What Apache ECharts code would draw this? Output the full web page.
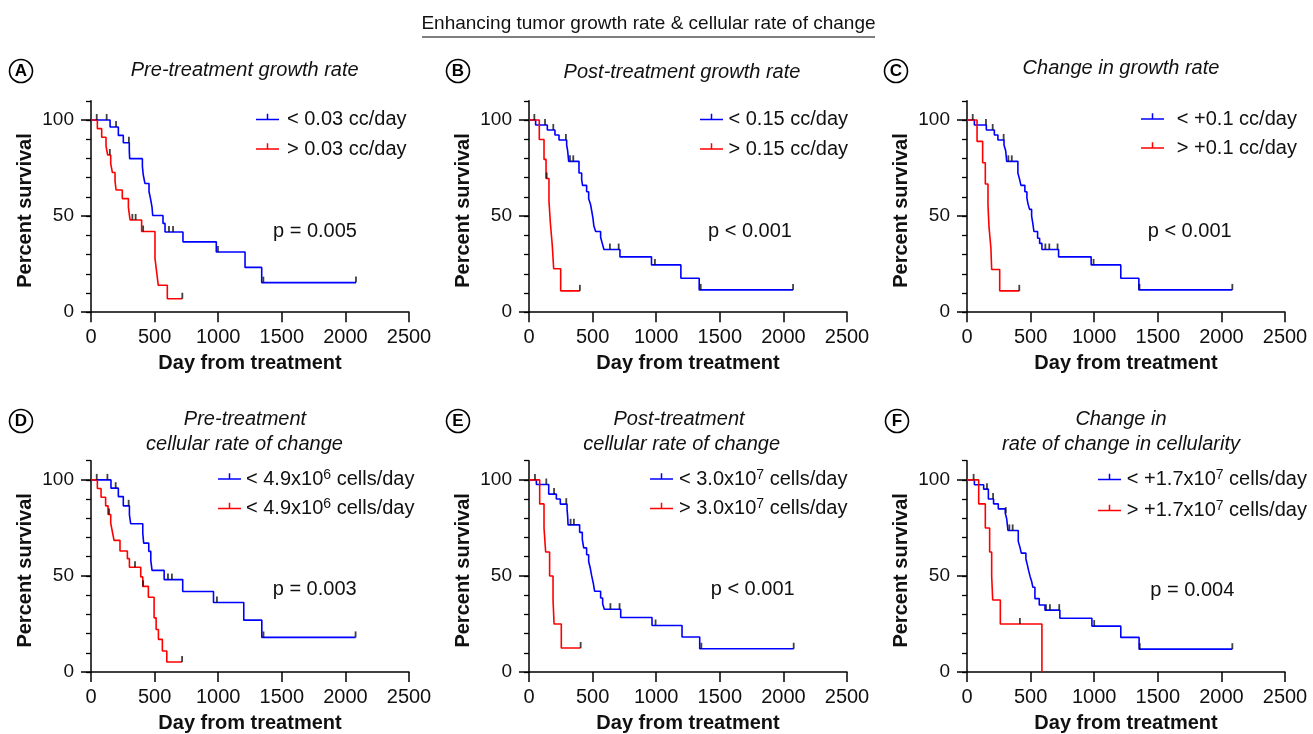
<!DOCTYPE html>
<html><head><meta charset="utf-8">
<script src="https://cdn.jsdelivr.net/npm/echarts@6/dist/echarts.min.js"></script>
<style>html,body{margin:0;padding:0;background:#fff}#c{width:1313px;height:734px}</style>
</head><body><div id="c"></div>
<script>
// ---------------- DATA ----------------
// Each curve: event days (T), survival % after each event (S), last follow-up day (End), censored days (Cens)
// A: Pre-treatment growth rate
const aBlueT = [0,150,215,254,301,304,404,411,424,456,469,480,485,566,582,723,985,1211,1342];
const aBlueS = [100,96.4,92,88.2,84.2,79.9,75.9,71.4,67,62.8,58.7,54.5,50.3,46.2,41.7,36.6,31.3,23.3,15.4];
const aBlueEnd = 2083;
const aBlueCens = [45,123,197,298,613,645,998,1355,2083];
const aRedT = [0,50,84,118,131,155,168,189,197,246,294,307,398,503,516,529,600];
const aRedS = [100,95.5,91,86.4,81.8,77.3,72.7,68.2,63.6,59.1,54.5,48,42,28,21,14,7];
const aRedEnd = 718;
const aRedCens = [148,325,351,410,718];
// B: Post-treatment growth rate
const bBlueT = [0,52,144,204,236,296,304,312,393,414,421,453,469,484,495,503,510,524,563,576,589,715,963,1194,1338];
const bBlueS = [100,97.4,94.8,92.2,89.6,87,83.9,78.5,72.4,69,66,62.7,59,56,52,48.8,44.8,42,39,35.8,32.6,28.8,24.6,17.7,11.6];
const bBlueEnd = 2076;
const bBlueCens = [42,126,191,290,322,348,636,705,990,1350,2076];
const bRedT = [0,81,118,134,157,168,183,194,249];
const bRedS = [100,89.9,79.5,69.6,57.8,46.4,34.7,22.6,11.1];
const bRedEnd = 400;
const bRedCens = [139,400];
// C: Change in growth rate
const cBlueT = [0,58,152,215,243,291,304,312,400,414,424,455,471,479,492,508,518,526,555,571,589,720,976,1209,1351];
const cBlueS = [100,97.4,94.8,92.2,89.6,87,84,78.5,72.4,69,66,62.7,59.5,56.5,53.5,50,46,42,38.5,35.8,32.6,28.8,24.6,17.7,11.6];
const cBlueEnd = 2086;
const cBlueCens = [45,149,202,288,325,352,616,647,712,995,1356,2086];
const cRedT = [0,79,123,144,165,173,188,194,257];
const cRedS = [100,88.9,77.8,66.7,55.6,44.4,33.3,22.2,11.1];
const cRedEnd = 411;
const cRedCens = [411];
// D: Pre-treatment cellular rate of change
const dBlueT = [0,157,215,254,302,312,407,414,454,470,480,575,721,963,1201,1343];
const dBlueS = [100,95.7,91.3,86.5,81.8,77.2,72.3,67.1,62.8,58.1,52.9,48.1,41.9,36.2,27,18];
const dBlueEnd = 2080;
const dBlueCens = [45,129,194,296,605,636,990,1356,2080];
const dRedT = [0,50,79,115,134,155,168,181,228,286,302,391,407,451,496,512,530,561,596];
const dRedS = [100,95.5,91,86.5,82,77.5,73,68.5,63,59,54.5,49.5,44.6,38.9,28.2,22.1,17,10.9,5.2];
const dRedEnd = 716;
const dRedCens = [142,346,410,716];
// E: Post-treatment cellular rate of change
const eBlueT = [0,58,155,215,246,299,304,307,398,419,430,453,469,482,493,506,516,563,579,592,721,967,1203,1342];
const eBlueS = [100,97.6,92.6,90.1,87.4,84.8,81,76.6,72.7,69,64.6,61,57.5,54,50,46,42,38.5,35.5,32.7,28.4,24.2,18.2,12.1];
const eBlueEnd = 2081;
const eBlueCens = [47,136,197,293,327,353,640,712,995,1355,2081];
const eRedT = [0,84,118,131,162,189,197,254];
const eRedS = [100,87.5,75,62.5,50,37.5,25,12.5];
const eRedEnd = 406;
const eRedCens = [406];
// F: Change in rate of change in cellularity
const fBlueT = [0,58,131,168,209,246,301,312,322,403,416,427,463,474,484,497,508,518,534,568,613,730,982,1209,1353];
const fBlueS = [100,97.5,95.2,90.1,87.5,84.9,82.7,79.8,73.7,68,65,61.9,58.8,55.9,52.9,49.5,47.2,44.1,38.2,34.9,32.2,28,23.9,18,11.9];
const fBlueEnd = 2086;
const fBlueCens = [52,157,205,305,333,359,621,652,725,1000,1358,2086];
const fRedT = [0,92,144,178,194,202,262,589];
const fRedS = [100,87.5,75,62.5,50,37.5,25,0];
const fRedEnd = 589;
const fRedCens = [416];

// Texts
const mainTitle = 'Enhancing tumor growth rate & cellular rate of change';
const panelLetters = ['A','B','C','D','E','F'];
const panelTitles = [['Pre-treatment growth rate'],['Post-treatment growth rate'],['Change in growth rate'],
  ['Pre-treatment','cellular rate of change'],['Post-treatment','cellular rate of change'],['Change in','rate of change in cellularity']];
const pTexts = ['p = 0.005','p < 0.001','p < 0.001','p = 0.003','p < 0.001','p = 0.004'];
// legend labels: [text before superscript, superscript, text after]
const legendBlue = [['< 0.03 cc/day','',''],['< 0.15 cc/day','',''],['< +0.1 cc/day','',''],
  ['< 4.9x10','6',' cells/day'],['< 3.0x10','7',' cells/day'],['< +1.7x10','7',' cells/day']];
const legendRed = [['> 0.03 cc/day','',''],['> 0.15 cc/day','',''],['> +0.1 cc/day','',''],
  ['< 4.9x10','6',' cells/day'],['> 3.0x10','7',' cells/day'],['> +1.7x10','7',' cells/day']];
const xTickValues = [0,500,1000,1500,2000,2500];
const yLabelValues = [0,50,100];
const yMinorValues = [0,10,20,30,40,50,60,70,80,90,100,110];
const xAxisName = 'Day from treatment';
const yAxisName = 'Percent survival';

// ---------------- LAYOUT ----------------
const FONT = '"Liberation Sans", Arial, Helvetica, sans-serif';
const BLUE = '#0000ff', RED = '#ff0000', INK = '#111';
const LAYOUT = [
  {left:91,  top:100.8, h:211.4, circle:[21,71],  title:[[244.7,70]], p:[273,231],    leg:{left:256, top:108.5, gap:7.5, pad:3}},
  {left:529, top:100.8, h:211.4, circle:[458,71], title:[[682,72]],   p:[708,231],    leg:{left:700, top:108.5, gap:7.5, pad:0.5}},
  {left:967, top:100.8, h:211.4, circle:[896,71], title:[[1121,68]],  p:[1147.7,231], leg:{left:1141,top:108,   gap:7,   pad:7.8}},
  {left:91,  top:460.7, h:212,   circle:[21,421], title:[[245,419],[244.5,444]],  p:[272.7,589], leg:{left:218, top:468, gap:7.5, pad:0}},
  {left:529, top:460.7, h:212,   circle:[458,421],title:[[679,419],[681.7,444]],  p:[710.7,589], leg:{left:650, top:468, gap:7.5, pad:1}},
  {left:967, top:460.7, h:212,   circle:[897,421],title:[[1121,419],[1121,444]],  p:[1150.3,590],leg:{left:1098,top:468.5,gap:9, pad:0.8}}
];
const curves = [
  [{T:aBlueT,S:aBlueS,end:aBlueEnd,cens:aBlueCens},{T:aRedT,S:aRedS,end:aRedEnd,cens:aRedCens}],
  [{T:bBlueT,S:bBlueS,end:bBlueEnd,cens:bBlueCens},{T:bRedT,S:bRedS,end:bRedEnd,cens:bRedCens}],
  [{T:cBlueT,S:cBlueS,end:cBlueEnd,cens:cBlueCens},{T:cRedT,S:cRedS,end:cRedEnd,cens:cRedCens}],
  [{T:dBlueT,S:dBlueS,end:dBlueEnd,cens:dBlueCens},{T:dRedT,S:dRedS,end:dRedEnd,cens:dRedCens}],
  [{T:eBlueT,S:eBlueS,end:eBlueEnd,cens:eBlueCens},{T:eRedT,S:eRedS,end:eRedEnd,cens:eRedCens}],
  [{T:fBlueT,S:fBlueS,end:fBlueEnd,cens:fBlueCens},{T:fRedT,S:fRedS,end:fRedEnd,cens:fRedCens}]
];

function stepData(c){ const d = c.T.map((t,i)=>[t,c.S[i]]); d.push([c.end,c.S[c.S.length-1]]); return d; }
function survAt(c,day){ let v=c.S[0]; for(let i=0;i<c.T.length;i++){ if(c.T[i]<=day) v=c.S[i]; } return v; }
function richLabel(l){ return '{t|'+l[0]+'}'+(l[1]?'{s|'+l[1]+'}{t|'+l[2]+'}':''); }

const LEGEND_ICON = 'path://M0,0L0.01,0L0,0.01Z M0,14L0.01,14L0,13.99Z M0,6.25H23V7.75H0Z M10.75,1.2H12.25V6.25H10.75Z';

const grids=[], xAxes=[], yAxes=[], series=[], legends=[], graphics=[];
const labelMap = {};
LAYOUT.forEach((L,i)=>{
  grids.push({left:L.left, top:L.top, width:318, height:L.h});
  xAxes.push({gridIndex:i, type:'value', min:0, max:2500, interval:500,
    axisLine:{onZero:false, lineStyle:{color:'#000', width:1.5}},
    axisTick:{length:10, customValues:xTickValues, lineStyle:{color:'#000', width:1.5}},
    axisLabel:{customValues:xTickValues, fontSize:20, color:INK, fontFamily:FONT, margin:15, formatter:(v)=>String(v)},
    splitLine:{show:false},
    name:xAxisName, nameLocation:'middle', nameGap:41,
    nameTextStyle:{fontSize:20, fontWeight:'bold', color:INK, fontFamily:FONT}});
  yAxes.push({gridIndex:i, type:'value', min:0, max:110, interval:10, position:'left',
    axisLine:{onZero:false, lineStyle:{color:'#000', width:1.5}},
    axisTick:{length:10, customValues:yLabelValues, lineStyle:{color:'#000', width:1.5}},
    axisLabel:{customValues:yLabelValues, fontSize:19, color:INK, fontFamily:FONT, margin:17, formatter:(v)=>String(v)},
    splitLine:{show:false},
    name:yAxisName, nameLocation:'middle', nameGap:56,
    nameTextStyle:{fontSize:20, fontWeight:'bold', color:INK, fontFamily:FONT, padding:[0,8,0,0]}});
  yAxes.push({gridIndex:i, type:'value', min:0, max:110, interval:10, position:'left', offset:0,
    axisLine:{show:false}, axisTick:{length:5, customValues:yMinorValues, lineStyle:{color:'#000', width:1.3}},
    axisLabel:{show:false}, splitLine:{show:false}});
  const names = [];
  curves[i].forEach((c,j)=>{
    const nm = panelLetters[i] + (j===0?'-low':'-high');
    names.push(nm);
    labelMap[nm] = j===0 ? legendBlue[i] : legendRed[i];
    series.push({type:'line', name:nm, xAxisIndex:i, yAxisIndex:2*i, step:'end', symbol:'none',
      data:stepData(c), color:j===0?BLUE:RED, lineStyle:{width:1.6, color:j===0?BLUE:RED}, z:2, animation:false});
    series.push({type:'scatter', name:nm+'-censored', xAxisIndex:i, yAxisIndex:2*i,
      data:c.cens.map(d=>[d, survAt(c,d)]), symbol:'rect', symbolSize:[1.8,6], symbolOffset:[0,-3],
      itemStyle:{color:'#111'}, z:3, animation:false, silent:true});
  });
  legends.push({data:names, orient:'vertical', left:L.leg.left, top:L.leg.top, itemGap:L.leg.gap,
    itemWidth:23, itemHeight:14, icon:LEGEND_ICON, selectedMode:false, padding:0,
    itemStyle:{borderWidth:0},
    formatter:(n)=>richLabel(labelMap[n]),
    textStyle:{fontSize:20, fontFamily:FONT, color:INK, lineHeight:22, padding:[0,0,0,L.leg.pad],
      rich:{t:{fontSize:20, fontFamily:FONT, color:INK, lineHeight:22},
            s:{fontSize:14, fontFamily:FONT, color:INK, lineHeight:13, verticalAlign:'top'}}}});
  // panel letter in circle
  graphics.push({type:'circle', shape:{cx:L.circle[0], cy:L.circle[1], r:11.5}, style:{fill:'#fff', stroke:'#000', lineWidth:1.6}});
  graphics.push({type:'text', x:L.circle[0], y:L.circle[1]+0.5, style:{text:panelLetters[i], fontSize:17, fontWeight:'bold', fontFamily:FONT, fill:'#000', align:'center', verticalAlign:'middle', textAlign:'center', textVerticalAlign:'middle'}});
  panelTitles[i].forEach((t,k)=>{
    graphics.push({type:'text', x:L.title[k][0], y:L.title[k][1], style:{text:t, fontSize:20, fontStyle:'italic', fontFamily:FONT, fill:INK, align:'center', verticalAlign:'middle', textAlign:'center', textVerticalAlign:'middle'}});
  });
  graphics.push({type:'text', x:L.p[0], y:L.p[1], style:{text:pTexts[i], fontSize:20, fontFamily:FONT, fill:INK, align:'left', verticalAlign:'middle', textAlign:'left', textVerticalAlign:'middle'}});
});
graphics.push({type:'text', x:648.5, y:24, style:{text:mainTitle, fontSize:19, fontFamily:FONT, fill:INK, align:'center', verticalAlign:'middle', textAlign:'center', textVerticalAlign:'middle'}});
graphics.push({type:'line', shape:{x1:422, y1:37, x2:875, y2:37}, style:{stroke:'#000', lineWidth:1.2}});

const chart = echarts.init(document.getElementById('c'), null, {renderer:'canvas'});
chart.setOption({
  animation:false, backgroundColor:'#fff',
  grid:grids, xAxis:xAxes, yAxis:yAxes, series:series, legend:legends, graphic:graphics
});
</script></body></html>
